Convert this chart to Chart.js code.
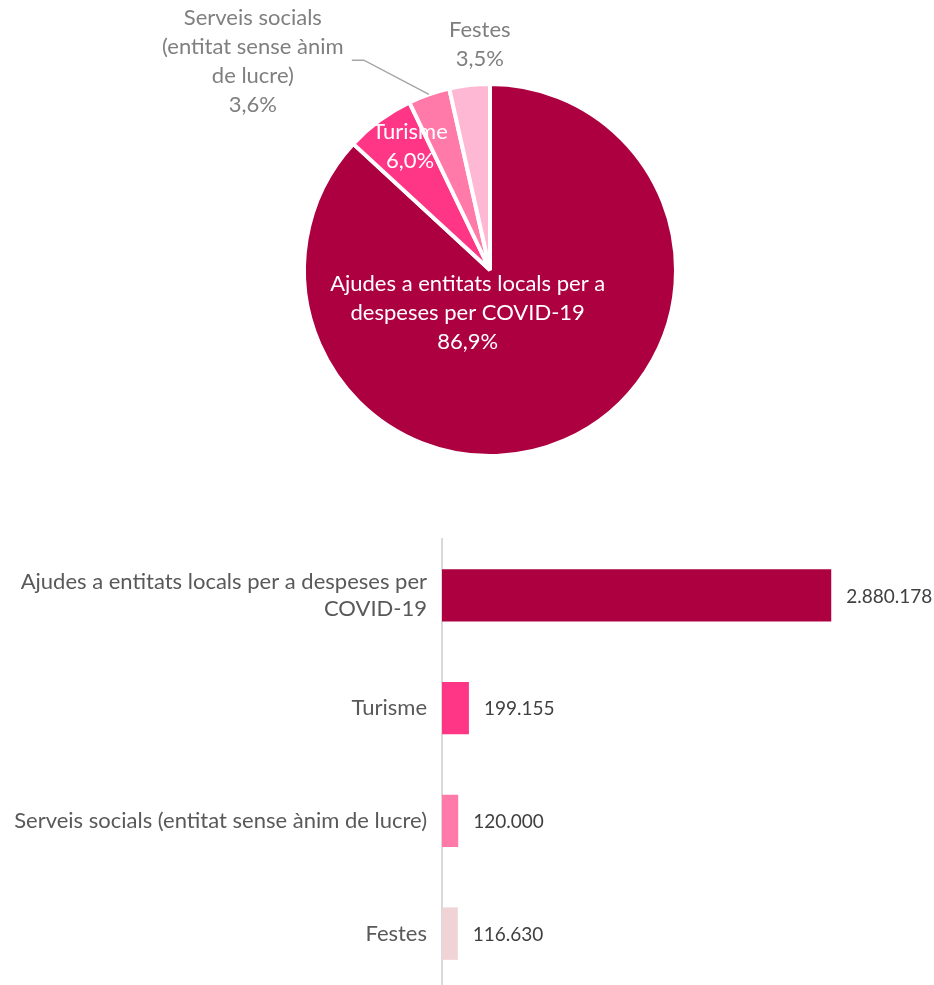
<!DOCTYPE html>
<html>
<head>
<meta charset="utf-8">
<script src="https://cdn.jsdelivr.net/npm/chart.js@4"></script>
<style>
  body { margin: 0; background: #fff; overflow: hidden; }
  #pie { position: absolute; left: 0; top: 0; width: 934px; height: 500px; }
  #bars { position: absolute; left: 0; top: 500px; width: 934px; height: 490px; }
</style>
</head>
<body>
<canvas id="pie" width="934" height="500"></canvas>
<canvas id="bars" width="934" height="490"></canvas>
<script>
const categories = [
  'Ajudes a entitats locals per a despeses per COVID-19',
  'Turisme',
  'Serveis socials (entitat sense ànim de lucre)',
  'Festes',
];
const values = [2880178, 199155, 120000, 116630];

// how each label is written on the pie and on the bar axis
const pieLabelLines = [
  ['Ajudes a entitats locals per a', 'despeses per COVID-19'],
  ['Turisme'],
  ['Serveis socials', '(entitat sense ànim', 'de lucre)'],
  ['Festes'],
];
const barLabelLines = [
  ['Ajudes a entitats locals per a despeses per', 'COVID-19'],
  ['Turisme'],
  ['Serveis socials (entitat sense ànim de lucre)'],
  ['Festes'],
];

const pieColors = ['#AD0040', '#FF3686', '#FF7AA8', '#FFB8D3'];
const barColors = ['#AD0040', '#FF3686', '#FF7AA8', '#EFD3D5'];

// label anchor relative to pie centre, in radii; inside labels are white
const pieLabelPlace = [
  { dx: -0.12, dy: 0.23, inside: true },
  { dx: -0.43, dy: -0.665, inside: true },
  { dx: -1.275, dy: -1.12, inside: false, leader: true },
  { dx: -0.055, dy: -1.215, inside: false },
];

const FONT = 'Lato, "Open Sans", sans-serif';
const total = values.reduce((a, b) => a + b, 0);
const pct = v => (v / total * 100).toFixed(1).replace('.', ',') + '%';
const fmt = v => v.toString().replace(/\B(?=(\d{3})+(?!\d))/g, '.');

const pieLabels = {
  id: 'pieLabels',
  afterDraw(chart) {
    const ctx = chart.ctx;
    const arcs = chart.getDatasetMeta(0).data;
    ctx.save();
    ctx.font = '22px ' + FONT;
    ctx.textAlign = 'center';
    ctx.textBaseline = 'middle';
    arcs.forEach((arc, i) => {
      const r = arc.outerRadius;
      const p = pieLabelPlace[i];
      const x = arc.x + p.dx * r;
      const lines = pieLabelLines[i].concat([pct(values[i])]);
      const lh = 29;
      const y0 = arc.y + p.dy * r - (lines.length - 1) * lh / 2;
      ctx.fillStyle = p.inside ? '#ffffff' : '#7F7F7F';
      lines.forEach((t, k) => ctx.fillText(t, x, y0 + k * lh));
      if (p.leader) {
        const mid = (arc.startAngle + arc.endAngle) / 2;
        const ex = arc.x + Math.cos(mid) * r;
        const ey = arc.y + Math.sin(mid) * r;
        const sx = x + 99, sy = y0 + lh + 13;
        ctx.strokeStyle = '#A6A6A6';
        ctx.lineWidth = 1.5;
        ctx.beginPath();
        ctx.moveTo(sx, sy);
        ctx.lineTo(sx + 12, sy);
        ctx.lineTo(ex, ey);
        ctx.stroke();
      }
    });
    ctx.restore();
  }
};

new Chart(document.getElementById('pie'), {
  type: 'pie',
  data: {
    labels: categories,
    datasets: [{
      data: values,
      backgroundColor: pieColors,
      borderColor: '#ffffff',
      borderWidth: 4,
      hoverOffset: 0,
    }],
  },
  options: {
    responsive: false,
    maintainAspectRatio: false,
    animation: false,
    layout: { padding: { left: 302, right: 256, top: 82, bottom: 42 } },
    plugins: { legend: { display: false }, tooltip: { enabled: false } },
  },
  plugins: [pieLabels],
});

const barValueLabels = {
  id: 'barValueLabels',
  afterDraw(chart) {
    const ctx = chart.ctx;
    ctx.save();
    ctx.font = '19px ' + FONT;
    ctx.fillStyle = '#404040';
    ctx.textAlign = 'left';
    ctx.textBaseline = 'middle';
    chart.getDatasetMeta(0).data.forEach((bar, i) => {
      ctx.fillText(fmt(values[i]), bar.x + 15, bar.y + 1);
    });
    ctx.restore();
  }
};

new Chart(document.getElementById('bars'), {
  type: 'bar',
  data: {
    labels: barLabelLines,
    datasets: [{
      data: values,
      backgroundColor: barColors,
      categoryPercentage: 1,
      barPercentage: 0.465,
    }],
  },
  options: {
    indexAxis: 'y',
    responsive: false,
    maintainAspectRatio: false,
    animation: false,
    layout: { padding: { left: 0, right: 19, top: 39, bottom: 0 } },
    scales: {
      x: { display: false, min: 0, max: 3500000 },
      y: {
        afterFit(s) {
          s.width = 442;
          s.paddingTop = 0;
          s.paddingBottom = 0;
        },
        grid: { display: false, drawTicks: false },
        border: { display: true, color: '#D9D9D9', width: 2 },
        ticks: {
          color: '#595959',
          padding: 15,
          font: { family: FONT, size: 22 },
          lineHeight: 1.3,
        },
      },
    },
    plugins: { legend: { display: false }, tooltip: { enabled: false } },
  },
  plugins: [barValueLabels],
});
</script>
</body>
</html>
